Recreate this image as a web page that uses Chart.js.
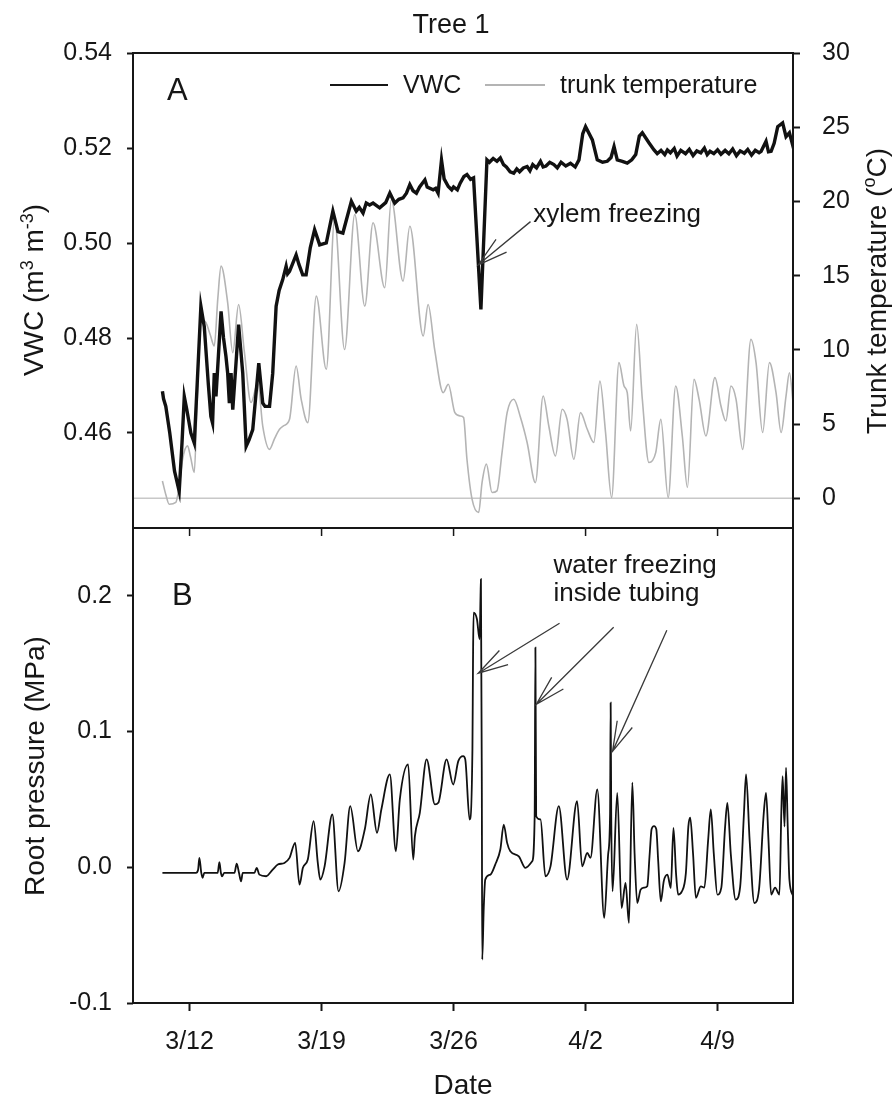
<!DOCTYPE html>
<html>
<head>
<meta charset="utf-8">
<script src="https://cdn.jsdelivr.net/npm/chart.js@4.4.1/dist/chart.umd.min.js"></script>
<style>
  html, body { margin: 0; padding: 0; background: #fff; }
  #wrap { position: relative; width: 895px; height: 1097px; }
  canvas { position: absolute; left: 0; top: 0; }
</style>
</head>
<body>
<div id="wrap">
  <canvas id="chart-a" width="895" height="1097"></canvas>
  <canvas id="chart-b" width="895" height="1097"></canvas>
</div>
<script>
// x values are days counted in March (3/12 = 12, 4/2 = 33)
const xMin = 9;
const xMax = 44;
const tickDays = [12, 19, 26, 33, 40];
const tickLabels = ['3/12', '3/19', '3/26', '4/2', '4/9'];

const vwcTicks = [0.46, 0.48, 0.50, 0.52, 0.54];
const tempTicks = [0, 5, 10, 15, 20, 25, 30];
const pressureTicks = [-0.1, 0.0, 0.1, 0.2];

const vwcDays = [10.56, 10.62, 10.74, 10.95, 11.2, 11.45, 11.6, 11.72, 11.85, 12.07, 12.25, 12.4, 12.6, 12.78, 13.0, 13.13, 13.22, 13.31, 13.4, 13.67, 13.8, 13.93, 14.02, 14.11, 14.2, 14.29, 14.45, 14.6, 14.82, 15.0, 15.15, 15.35, 15.67, 15.88, 16.0, 16.24, 16.41, 16.59, 16.75, 16.94, 17.12, 17.2, 17.3, 17.45, 17.65, 17.8, 18.0, 18.18, 18.4, 18.63, 18.9, 19.25, 19.6, 19.87, 20.13, 20.58, 20.84, 21.0, 21.2, 21.37, 21.55, 21.73, 22.08, 22.4, 22.62, 22.88, 23.1, 23.32, 23.5, 23.68, 23.85, 24.03, 24.2, 24.48, 24.6, 24.92, 25.05, 25.18, 25.36, 25.5, 25.72, 25.9, 26.0, 26.2, 26.35, 26.55, 26.71, 26.9, 27.06, 27.45, 27.77, 27.9, 28.1, 28.3, 28.48, 28.65, 28.8, 29.0, 29.19, 29.35, 29.5, 29.7, 29.9, 30.05, 30.2, 30.4, 30.61, 30.75, 30.9, 31.1, 31.32, 31.5, 31.7, 31.95, 32.2, 32.45, 32.65, 32.85, 33.0, 33.36, 33.62, 33.9, 34.15, 34.35, 34.51, 34.68, 34.95, 35.21, 35.45, 35.66, 35.85, 36.01, 36.36, 36.63, 36.8, 37.0, 37.2, 37.34, 37.5, 37.7, 37.85, 38.05, 38.3, 38.5, 38.7, 38.9, 39.11, 39.3, 39.45, 39.6, 39.8, 40.0, 40.18, 40.4, 40.6, 40.8, 41.0, 41.2, 41.42, 41.6, 41.8, 42.0, 42.2, 42.31, 42.57, 42.7, 42.84, 43.0, 43.19, 43.45, 43.63, 43.81, 44.05];
const vwcValues = [0.4688, 0.4672, 0.4656, 0.4600, 0.4520, 0.4477, 0.4580, 0.4677, 0.4650, 0.4600, 0.4579, 0.4700, 0.4867, 0.4824, 0.4700, 0.4635, 0.4621, 0.4726, 0.4677, 0.4856, 0.4800, 0.4761, 0.4726, 0.4663, 0.4726, 0.4649, 0.4740, 0.4828, 0.4726, 0.4572, 0.4585, 0.4607, 0.4747, 0.4663, 0.4656, 0.4656, 0.4726, 0.4867, 0.4900, 0.4923, 0.4951, 0.4935, 0.4940, 0.4955, 0.4975, 0.4955, 0.4933, 0.4933, 0.4990, 0.5028, 0.4996, 0.5000, 0.5067, 0.5024, 0.5021, 0.5088, 0.5067, 0.5075, 0.5063, 0.5084, 0.5080, 0.5084, 0.5074, 0.5085, 0.5105, 0.5084, 0.5092, 0.5095, 0.5105, 0.5123, 0.5110, 0.5105, 0.5118, 0.5133, 0.5118, 0.5112, 0.5115, 0.5105, 0.5175, 0.5135, 0.5119, 0.5112, 0.5118, 0.5112, 0.5126, 0.5140, 0.5144, 0.5134, 0.5137, 0.4860, 0.5175, 0.5170, 0.5178, 0.5172, 0.5179, 0.5165, 0.5160, 0.5150, 0.5147, 0.5156, 0.5150, 0.5158, 0.5161, 0.5152, 0.5165, 0.5158, 0.5172, 0.5160, 0.5162, 0.5170, 0.5165, 0.5158, 0.5170, 0.5162, 0.5168, 0.5160, 0.5175, 0.5230, 0.5245, 0.5217, 0.5175, 0.5170, 0.5172, 0.5180, 0.5203, 0.5175, 0.5172, 0.5168, 0.5175, 0.5186, 0.5225, 0.5232, 0.5211, 0.5196, 0.5188, 0.5195, 0.5186, 0.5196, 0.5190, 0.5199, 0.5183, 0.5195, 0.5188, 0.5197, 0.5184, 0.5194, 0.5190, 0.5200, 0.5186, 0.5193, 0.5188, 0.5196, 0.5187, 0.5195, 0.5188, 0.5198, 0.5184, 0.5194, 0.5189, 0.5197, 0.5185, 0.5195, 0.5190, 0.5193, 0.5214, 0.5192, 0.5193, 0.5210, 0.5245, 0.5253, 0.5224, 0.5232, 0.5196];

const tempDays = [10.56, 10.75, 10.92, 11.27, 11.45, 11.63, 11.89, 12.05, 12.25, 12.4, 12.6, 12.87, 13.1, 13.31, 13.5, 13.67, 14.02, 14.29, 14.6, 14.91, 15.26, 15.62, 15.88, 16.24, 16.5, 16.77, 17.0, 17.3, 17.65, 17.92, 18.27, 18.72, 19.25, 19.69, 20.22, 20.76, 21.29, 21.73, 22.35, 22.7, 23.32, 23.68, 24.39, 24.65, 25.0, 25.45, 25.72, 26.07, 26.35, 26.53, 26.71, 26.98, 27.33, 27.51, 27.74, 28.04, 28.3, 28.57, 28.84, 29.19, 29.55, 29.9, 30.34, 30.75, 31.05, 31.4, 31.76, 32.02, 32.38, 32.73, 33.09, 33.44, 33.76, 34.06, 34.38, 34.77, 35.04, 35.21, 35.39, 35.71, 36.01, 36.36, 36.72, 36.99, 37.38, 37.78, 38.13, 38.4, 38.75, 39.02, 39.38, 39.86, 40.18, 40.44, 40.71, 40.98, 41.33, 41.77, 42.04, 42.39, 42.75, 43.1, 43.37, 43.63, 43.81, 44.05];
const tempValues = [1.17, 0.2, -0.4, -0.28, 0.8, 2.63, 3.53, 2.8, 1.74, 6.5, 12.05, 11.83, 11.0, 10.26, 13.5, 15.64, 13.18, 9.81, 13.06, 9.81, 6.45, 7.79, 4.87, 3.3, 4.0, 4.65, 4.9, 5.32, 8.91, 6.67, 5.1, 13.62, 8.69, 18.78, 10.03, 19.12, 12.95, 18.56, 14.19, 20.13, 14.63, 18.33, 10.93, 13.06, 10.0, 7.12, 7.68, 5.77, 5.55, 5.44, 2.63, -0.06, -0.96, 1.06, 2.3, 0.39, 0.5, 3.08, 5.77, 6.67, 5.44, 3.76, 1.06, 6.89, 4.87, 2.85, 6.0, 5.32, 2.63, 5.77, 4.65, 3.76, 7.9, 4.43, 0.05, 9.14, 7.57, 7.12, 4.54, 11.72, 6.67, 2.41, 3.08, 5.32, 0.05, 7.57, 4.2, 0.73, 8.01, 6.67, 4.2, 8.13, 6.22, 5.21, 7.57, 6.67, 3.3, 10.71, 9.14, 4.43, 9.14, 7.12, 4.43, 6.89, 8.46, 5.77];

const rootDays = [10.56, 12.34, 12.45, 12.52, 12.62, 12.69, 12.78, 13.49, 13.58, 13.66, 13.72, 13.84, 14.38, 14.5, 14.62, 14.73, 14.82, 15.44, 15.56, 15.7, 16.06, 16.41, 16.68, 17.03, 17.3, 17.6, 17.83, 18.01, 18.27, 18.58, 18.8, 18.93, 19.16, 19.57, 19.9, 20.22, 20.52, 20.93, 21.29, 21.61, 21.94, 22.17, 22.62, 22.94, 23.15, 23.59, 23.86, 23.95, 24.21, 24.57, 25.01, 25.19, 25.63, 25.98, 26.25, 26.51, 26.62, 26.85, 27.0, 27.03, 27.06, 27.24, 27.38, 27.43, 27.45, 27.5, 27.52, 27.6, 27.68, 27.95, 28.21, 28.48, 28.66, 28.84, 29.01, 29.46, 29.81, 30.17, 30.3, 30.34, 30.38, 30.61, 30.87, 31.14, 31.58, 32.02, 32.55, 32.82, 33.09, 33.26, 33.62, 33.99, 34.2, 34.3, 34.33, 34.36, 34.43, 34.68, 34.91, 35.12, 35.3, 35.48, 35.6, 35.74, 35.92, 36.1, 36.27, 36.4, 36.5, 36.63, 36.75, 36.85, 36.99, 37.15, 37.34, 37.52, 37.66, 37.8, 37.91, 38.1, 38.32, 38.45, 38.55, 38.7, 38.85, 39.11, 39.3, 39.5, 39.64, 39.8, 39.99, 40.2, 40.4, 40.52, 40.7, 40.96, 41.2, 41.4, 41.51, 41.7, 41.95, 42.2, 42.45, 42.57, 42.7, 42.84, 43.05, 43.28, 43.38, 43.45, 43.55, 43.63, 43.72, 43.81, 44.0];
const rootPressure = [-0.0041, -0.0041, -0.002, 0.0069, -0.004, -0.0078, -0.0041, -0.0041, 0.0037, -0.004, -0.0066, -0.0041, -0.0041, 0.0027, -0.004, -0.0103, -0.0041, -0.0041, -0.0004, -0.0054, -0.0066, -0.0017, 0.002, 0.0032, 0.0069, 0.018, -0.0128, -0.0004, 0.0057, 0.034, 0.0032, -0.0091, 0.0007, 0.0389, -0.0177, 0.0032, 0.045, 0.0118, 0.0278, 0.0537, 0.0254, 0.0426, 0.0684, 0.0118, 0.05, 0.0758, 0.0057, 0.0229, 0.0401, 0.0795, 0.0463, 0.0475, 0.0795, 0.061, 0.0782, 0.0819, 0.0795, 0.0352, 0.0869, 0.15, 0.1877, 0.1828, 0.168, 0.2, 0.2123, 0.05, -0.068, -0.03, -0.0091, -0.0054, 0.002, 0.0131, 0.0315, 0.018, 0.0118, 0.0081, -0.0004, 0.0044, 0.0376, 0.1619, 0.0376, 0.0352, -0.0066, 0.0007, 0.045, -0.0091, 0.0487, 0.0007, 0.0106, 0.0069, 0.0573, -0.0373, 0.01, 0.04, 0.1213, 0.04, -0.0177, 0.0549, -0.03, -0.0115, -0.041, 0.0623, 0.01, -0.0263, -0.0165, -0.015, -0.014, 0.01, 0.028, 0.0303, 0.028, 0.005, -0.0251, -0.01, -0.0054, -0.0152, 0.0291, -0.005, -0.0201, -0.018, -0.0041, 0.03, 0.0365, 0.01, -0.0226, -0.014, -0.015, 0.02, 0.0426, 0.01, -0.0201, -0.015, 0.03, 0.0475, 0.01, -0.0238, -0.014, 0.04, 0.0684, 0.02, -0.0263, -0.016, 0.04, 0.0549, 0.02, -0.0201, -0.015, -0.0201, 0.04, 0.0672, 0.03, 0.0734, 0.03, -0.009, -0.021];

const FONT = "'Liberation Sans', Arial, sans-serif";
const INK = '#161616';

function toPoints(xs, ys) {
    return xs.map((x, i) => ({ x: x, y: ys[i] }));
}

function font(size) {
    return size + 'px ' + FONT;
}

function drawArrow(ctx, x1, y1, x2, y2) {
    const ang = Math.atan2(y1 - y2, x1 - x2);
    const len = 31, spread = 0.27;
    ctx.save();
    ctx.strokeStyle = '#3a3a3a';
    ctx.lineWidth = 1.3;
    ctx.beginPath();
    ctx.moveTo(x1, y1);
    ctx.lineTo(x2, y2);
    ctx.moveTo(x2 + len * Math.cos(ang - spread), y2 + len * Math.sin(ang - spread));
    ctx.lineTo(x2, y2);
    ctx.lineTo(x2 + len * Math.cos(ang + spread), y2 + len * Math.sin(ang + spread));
    ctx.stroke();
    ctx.restore();
}

// rotated axis title, parts = [text, size, rise]
function drawVertical(ctx, parts, x, yCenter) {
    ctx.save();
    ctx.translate(x, yCenter);
    ctx.rotate(-Math.PI / 2);
    ctx.fillStyle = INK;
    ctx.textBaseline = 'alphabetic';
    ctx.textAlign = 'left';
    let total = 0;
    parts.forEach(p => { ctx.font = font(p[1]); total += ctx.measureText(p[0]).width; });
    let pos = -total / 2;
    parts.forEach(p => {
        ctx.font = font(p[1]);
        ctx.fillText(p[0], pos, -p[2]);
        pos += ctx.measureText(p[0]).width;
    });
    ctx.restore();
}

function drawFrame(chart) {
    const a = chart.chartArea;
    const ctx = chart.ctx;
    ctx.save();
    ctx.strokeStyle = INK;
    ctx.lineWidth = 2;
    ctx.strokeRect(a.left, a.top, a.right - a.left, a.bottom - a.top);
    ctx.restore();
}

const panelA = {
    id: 'panelA',
    afterDraw(chart) {
        const ctx = chart.ctx;
        const sx = chart.scales.x, sy = chart.scales.y;
        drawFrame(chart);
        ctx.save();
        ctx.fillStyle = INK;
        ctx.textBaseline = 'alphabetic';

        ctx.font = font(27);
        ctx.textAlign = 'center';
        ctx.fillText('Tree 1', 451, 33);

        ctx.textAlign = 'left';
        ctx.font = font(31);
        ctx.fillText('A', 167, 100);

        // legend
        ctx.lineWidth = 2;
        ctx.strokeStyle = INK;
        ctx.beginPath(); ctx.moveTo(330, 85); ctx.lineTo(388, 85); ctx.stroke();
        ctx.strokeStyle = '#b4b4b4';
        ctx.beginPath(); ctx.moveTo(485, 85); ctx.lineTo(545, 85); ctx.stroke();
        ctx.font = font(25);
        ctx.textBaseline = 'middle';
        ctx.fillText('VWC', 403, 86);
        ctx.fillText('trunk temperature', 560, 86);

        ctx.font = font(26);
        ctx.fillText('xylem freezing', sx.getPixelForValue(30.23), sy.getPixelForValue(0.506));
        ctx.restore();

        drawArrow(ctx, sx.getPixelForValue(30.08), sy.getPixelForValue(0.5045),
                  sx.getPixelForValue(27.31), sy.getPixelForValue(0.4954));

        drawVertical(ctx, [['VWC (m', 28, 0], ['3', 18, 10], [' m', 28, 0], ['-3', 18, 10], [')', 28, 0]], 43, 290);
        drawVertical(ctx, [['Trunk temperature (', 28, 0], ['o', 18, 11], ['C)', 28, 0]], 886, 291);
    }
};

const panelB = {
    id: 'panelB',
    afterDraw(chart) {
        const ctx = chart.ctx;
        const sx = chart.scales.x, sy = chart.scales.y;
        const a = chart.chartArea;
        drawFrame(chart);
        ctx.save();
        ctx.strokeStyle = INK;
        ctx.lineWidth = 1.5;
        tickDays.forEach(d => {
            const px = sx.getPixelForValue(d);
            ctx.beginPath(); ctx.moveTo(px, a.top); ctx.lineTo(px, a.top + 8); ctx.stroke();
        });
        ctx.fillStyle = INK;
        ctx.textAlign = 'left';
        ctx.textBaseline = 'alphabetic';
        ctx.font = font(31);
        ctx.fillText('B', 172, 605);

        ctx.font = font(26);
        ctx.textBaseline = 'middle';
        ctx.fillText('water freezing', sx.getPixelForValue(31.3), sy.getPixelForValue(0.2219));
        ctx.fillText('inside tubing', sx.getPixelForValue(31.3), sy.getPixelForValue(0.2013));

        ctx.font = font(28);
        ctx.textAlign = 'center';
        ctx.textBaseline = 'alphabetic';
        ctx.fillText('Date', (a.left + a.right) / 2, 1094);
        ctx.restore();

        drawArrow(ctx, sx.getPixelForValue(31.62), sy.getPixelForValue(0.1798),
                  sx.getPixelForValue(27.31), sy.getPixelForValue(0.143));
        drawArrow(ctx, sx.getPixelForValue(34.49), sy.getPixelForValue(0.1769),
                  sx.getPixelForValue(30.39), sy.getPixelForValue(0.1201));
        drawArrow(ctx, sx.getPixelForValue(37.31), sy.getPixelForValue(0.1747),
                  sx.getPixelForValue(34.43), sy.getPixelForValue(0.0854));

        drawVertical(ctx, [['Root pressure (MPa)', 28, 0]], 44, 766);
    }
};

const tickFont = { family: FONT, size: 25 };
const common = {
    responsive: false,
    animation: false,
    events: [],
    plugins: { legend: { display: false }, tooltip: { enabled: false } }
};

new Chart(document.getElementById('chart-a'), {
    type: 'line',
    data: {
        datasets: [
            {
                label: 'VWC',
                data: toPoints(vwcDays, vwcValues),
                yAxisID: 'y',
                borderColor: '#111',
                borderWidth: 3.4,
                pointRadius: 0,
                order: 1
            },
            {
                label: 'trunk temperature',
                data: toPoints(tempDays, tempValues),
                yAxisID: 'y2',
                borderColor: '#b4b4b4',
                borderWidth: 1.6,
                pointRadius: 0,
                cubicInterpolationMode: 'monotone',
                order: 2
            },
            {
                label: 'zero',
                data: [{ x: xMin, y: 0 }, { x: xMax, y: 0 }],
                yAxisID: 'y2',
                borderColor: '#c8c8c8',
                borderWidth: 1.5,
                pointRadius: 0,
                order: 3
            }
        ]
    },
    options: {
        ...common,
        layout: { padding: { top: 53, bottom: 569 } },
        scales: {
            x: { type: 'linear', min: xMin, max: xMax, display: false },
            y: {
                position: 'left',
                min: 0.44,
                max: 0.54,
                afterFit: s => { s.width = 133; },
                afterBuildTicks: s => { s.ticks = vwcTicks.map(v => ({ value: v })); },
                border: { display: false },
                grid: { drawOnChartArea: false, tickLength: 6, tickColor: INK, tickWidth: 2 },
                ticks: { padding: 15, font: tickFont, color: INK, callback: v => v.toFixed(2) }
            },
            y2: {
                position: 'right',
                min: -2,
                max: 30,
                afterFit: s => { s.width = 102; },
                afterBuildTicks: s => { s.ticks = tempTicks.map(v => ({ value: v })); },
                border: { display: false },
                grid: { drawOnChartArea: false, tickLength: 7, tickColor: INK, tickWidth: 2 },
                ticks: { padding: 22, font: tickFont, color: INK, callback: v => String(v) }
            }
        }
    },
    plugins: [panelA]
});

new Chart(document.getElementById('chart-b'), {
    type: 'line',
    data: {
        datasets: [{
            label: 'Root pressure',
            data: toPoints(rootDays, rootPressure),
            borderColor: '#111',
            borderWidth: 1.8,
            pointRadius: 0,
            cubicInterpolationMode: 'monotone'
        }]
    },
    options: {
        ...common,
        layout: { padding: { top: 528, right: 102 } },
        scales: {
            x: {
                type: 'linear',
                min: xMin,
                max: xMax,
                afterFit: s => { s.height = 94; },
                afterBuildTicks: s => { s.ticks = tickDays.map(v => ({ value: v })); },
                border: { display: false },
                grid: { drawOnChartArea: false, tickLength: 8, tickColor: INK, tickWidth: 2 },
                ticks: {
                    padding: 16, font: tickFont, color: INK, autoSkip: false, maxRotation: 0,
                    callback: v => tickLabels[tickDays.indexOf(v)]
                }
            },
            y: {
                min: -0.1,
                max: 0.25,
                afterFit: s => { s.width = 133; },
                afterBuildTicks: s => { s.ticks = pressureTicks.map(v => ({ value: v })); },
                border: { display: false },
                grid: { drawOnChartArea: false, tickLength: 6, tickColor: INK, tickWidth: 2 },
                ticks: { padding: 15, font: tickFont, color: INK, callback: v => v.toFixed(1) }
            }
        }
    },
    plugins: [panelB]
});
</script>
</body>
</html>
